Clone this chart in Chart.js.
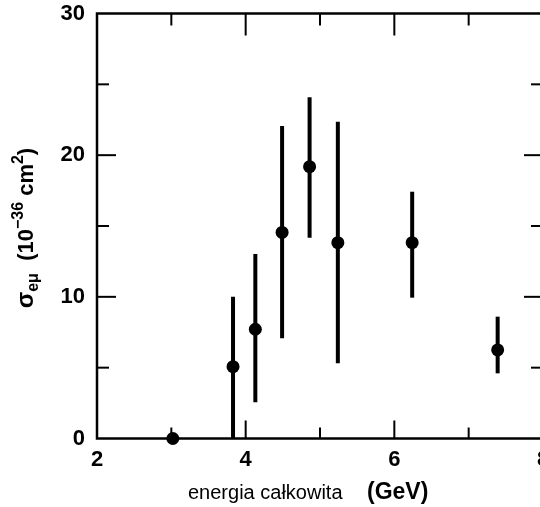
<!DOCTYPE html>
<html><head><meta charset="utf-8">
<script src="https://cdn.jsdelivr.net/npm/chart.js@4/dist/chart.umd.min.js"></script>
<style>html,body{margin:0;padding:0;background:#fff;overflow:hidden;width:540px;height:507px}canvas{display:block}</style>
</head><body>
<canvas id="c" width="560" height="507"></canvas>
<script>
// ---- data ----
const energy    = [3.02, 3.83, 4.13, 4.49, 4.86, 5.24, 6.24, 7.39];
const sigma     = [0.0, 5.07, 7.71, 14.55, 19.19, 13.82, 13.82, 6.25];
const sigmaLow  = [0.0, 0.0, 2.56, 7.07, 14.17, 5.31, 9.94, 4.6];
const sigmaHigh = [0.0, 10.0, 13.02, 22.06, 24.08, 22.36, 17.42, 8.6];
const xMajorTicks = [4, 6];
const xMinorTicks = [3, 5, 7];
const yMajorTicks = [10, 20];
const yMinorTicks = [5, 15, 25];
const xTitleA = 'energia całkowita';
const xTitleB = '(GeV)';

const FONT = '"Liberation Sans", Arial, Helvetica, sans-serif';

const points = energy.map((e, i) => ({x: e, y: sigma[i]}));

const decor = {
  id: 'decor',
  beforeDatasetsDraw(chart) {
    const {ctx, scales: {x, y}} = chart;
    ctx.save();
    ctx.strokeStyle = '#000';
    ctx.lineWidth = 4;
    ctx.lineCap = 'butt';
    energy.forEach((e, i) => {
      if (sigmaHigh[i] === sigmaLow[i]) return;
      const px = x.getPixelForValue(e);
      ctx.beginPath();
      ctx.moveTo(px, y.getPixelForValue(sigmaLow[i]));
      ctx.lineTo(px, y.getPixelForValue(sigmaHigh[i]));
      ctx.stroke();
    });
    ctx.restore();
  },
  afterDraw(chart) {
    const {ctx, chartArea: a, scales: {x, y}} = chart;
    ctx.save();
    ctx.strokeStyle = '#000';
    ctx.lineWidth = 2.5;
    ctx.beginPath();
    ctx.rect(a.left, a.top, a.right - a.left, a.bottom - a.top);
    ctx.stroke();
    ctx.lineWidth = 2;
    const tick = (x1, y1, x2, y2) => { ctx.beginPath(); ctx.moveTo(x1, y1); ctx.lineTo(x2, y2); ctx.stroke(); };
    yMajorTicks.forEach(v => { const p = y.getPixelForValue(v); tick(a.left, p, a.left + 19, p); tick(a.right, p, a.right - 19, p); });
    yMinorTicks.forEach(v => { const p = y.getPixelForValue(v); tick(a.left, p, a.left + 12, p); tick(a.right, p, a.right - 12, p); });
    xMajorTicks.forEach(v => { const p = x.getPixelForValue(v); tick(p, a.bottom, p, a.bottom - 18); tick(p, a.top, p, a.top + 22); });
    xMinorTicks.forEach(v => { const p = x.getPixelForValue(v); tick(p, a.bottom, p, a.bottom - 11); tick(p, a.top, p, a.top + 12); });

    // x title
    ctx.fillStyle = '#000';
    ctx.textBaseline = 'alphabetic';
    ctx.textAlign = 'left';
    ctx.font = '20px ' + FONT;
    ctx.fillText(xTitleA, 188, 499);
    ctx.font = 'bold 23px ' + FONT;
    ctx.fillText(xTitleB, 367, 499);

    // y title (rotated)
    const parts = [
      {t: 'σ', f: 'bold 24px', dy: 0},
      {t: 'eμ', f: 'bold 16px', dy: 5},
      {t: '  (10', f: 'bold 22px', dy: 0},
      {t: '−36', f: 'bold 16px', dy: -10},
      {t: ' cm', f: 'bold 22px', dy: 0},
      {t: '2', f: 'bold 16px', dy: -10},
      {t: ')', f: 'bold 22px', dy: 0}
    ];
    let total = 0;
    parts.forEach(p => { ctx.font = p.f + ' ' + FONT; p.w = ctx.measureText(p.t).width; total += p.w; });
    ctx.translate(33, 228);
    ctx.rotate(-Math.PI / 2);
    let cx = -total / 2;
    parts.forEach(p => { ctx.font = p.f + ' ' + FONT; ctx.fillText(p.t, cx, p.dy); cx += p.w; });
    ctx.restore();
  }
};

new Chart(document.getElementById('c'), {
  type: 'scatter',
  data: {
    datasets: [{
      data: points,
      backgroundColor: '#000',
      borderColor: '#000',
      borderWidth: 0,
      pointRadius: 6.5,
      pointHoverRadius: 6.5,
      clip: false
    }]
  },
  options: {
    responsive: false,
    devicePixelRatio: 1,
    animation: false,
    events: [],
    layout: {padding: {top: 13.5, right: 17, left: 0, bottom: 0}},
    plugins: {legend: {display: false}, tooltip: {enabled: false}},
    scales: {
      x: {
        type: 'linear', min: 2, max: 8,
        ticks: {stepSize: 2, color: '#000', padding: 8, font: {family: FONT, size: 22, weight: 'bold'}},
        grid: {display: false, drawTicks: false},
        border: {display: false},
        afterFit(s) { s.height = 68.5; s.paddingLeft = 0; s.paddingRight = 0; }
      },
      y: {
        min: 0, max: 30,
        ticks: {stepSize: 10, color: '#000', padding: 12, font: {family: FONT, size: 22, weight: 'bold'}},
        grid: {display: false, drawTicks: false},
        border: {display: false},
        afterFit(s) { s.width = 97; s.paddingTop = 0; s.paddingBottom = 0; }
      }
    }
  },
  plugins: [decor]
});
</script>
</body></html>
